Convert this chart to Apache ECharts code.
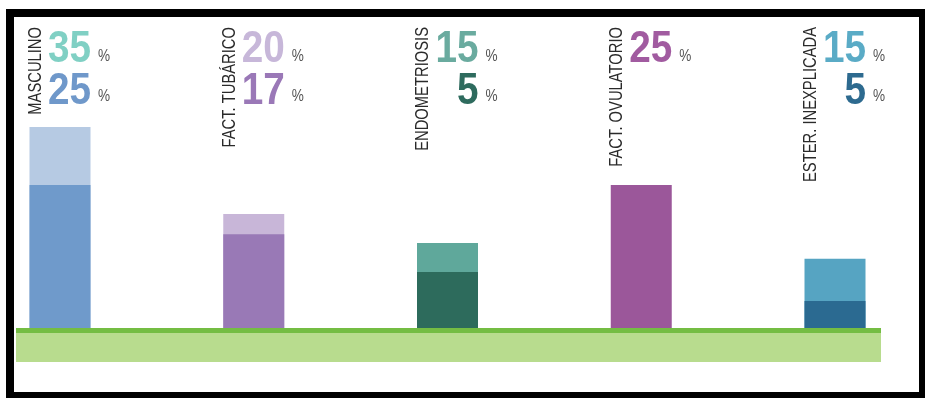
<!DOCTYPE html>
<html>
<head>
<meta charset="utf-8">
<title>Causas de esterilidad</title>
<script src="https://cdn.jsdelivr.net/npm/echarts@6/dist/echarts.min.js"></script>
<style>
  html, body { margin: 0; padding: 0; background: #fff; }
  #chart { width: 925px; height: 398px; }
</style>
</head>
<body>
<div id="chart"></div>
<script>
// data
var categories = ['MASCULINO', 'FACT. TUBÁRICO', 'ENDOMETRIOSIS', 'FACT. OVULATORIO', 'ESTER. INEXPLICADA'];
var outerValues = [35, 20, 15, 25, 12.3];   // full bar height
var innerValues = [25, 16.5, 10, '-', 5];   // darker lower part
var topLabels = ['35', '20', '15', '25', '15'];
var bottomLabels = ['25', '17', '5', '', '5'];

// colours
var outerColors = ['#b6cae3', '#c8b6d8', '#5fa89b', '#9b579a', '#56a4c2'];
var innerColors = ['#6f9acb', '#9979b6', '#2d6b5c', '#9b579a', '#2b6a91'];
var topLabelColors = ['#80d0c4', '#c7b7d9', '#6aab9f', '#a15ba0', '#5aabc6'];
var bottomLabelColors = ['#6f98ca', '#9a78b7', '#2e6b5e', '#a15ba0', '#2d6a8f'];

var sans = "'Liberation Sans', Arial, sans-serif";

var myChart = echarts.init(document.getElementById('chart'), null, { renderer: 'canvas' });

// fixed-height labels above each bar: rotated name, big numbers, small %
function renderLabels(params, api) {
    var i = params.dataIndex;
    var cx = api.coord([i, 0])[0];
    var kids = [
        {
            type: 'text',
            x: cx - 24, y: 27,
            rotation: Math.PI / 2,
            scaleX: 0.82,
            style: { text: categories[i], font: '18px ' + sans, fill: '#2a2a2a', align: 'right', verticalAlign: 'middle' }
        },
        {
            type: 'text',
            x: cx + 31, y: 27,
            scaleX: 0.86,
            style: { text: topLabels[i], font: 'bold 45px ' + sans, fill: topLabelColors[i], align: 'right', verticalAlign: 'top' }
        },
        {
            type: 'text',
            x: cx + 38, y: 48.5,
            scaleX: 0.85,
            style: { text: '%', font: '16px ' + sans, fill: '#555', align: 'left', verticalAlign: 'top' }
        }
    ];
    if (bottomLabels[i]) {
        kids.push({
            type: 'text',
            x: cx + 31, y: 69,
            scaleX: 0.86,
            style: { text: bottomLabels[i], font: 'bold 45px ' + sans, fill: bottomLabelColors[i], align: 'right', verticalAlign: 'top' }
        });
        kids.push({
            type: 'text',
            x: cx + 38, y: 88.5,
            scaleX: 0.85,
            style: { text: '%', font: '16px ' + sans, fill: '#555', align: 'left', verticalAlign: 'top' }
        });
    }
    return { type: 'group', children: kids };
}

option = {
    animation: false,
    backgroundColor: '#fff',
    grid: { left: 60, right: 90, top: 98, bottom: 68 },
    xAxis: {
        type: 'category',
        data: categories,
        boundaryGap: false,
        axisLine: { show: false },
        axisTick: { show: false },
        axisLabel: { show: false },
        splitLine: { show: false }
    },
    yAxis: {
        type: 'value',
        min: 0,
        max: 40,
        show: false,
        splitLine: { show: false }
    },
    graphic: [
        // green ground band
        { type: 'rect', z: 10, shape: { x: 16, y: 333, width: 865, height: 29 }, style: { fill: '#b8dc8e' } },
        { type: 'rect', z: 10, shape: { x: 16, y: 328, width: 865, height: 5 }, style: { fill: '#74bd43' } },
        // black frame (left/top thicker than right/bottom)
        { type: 'rect', z: 20, shape: { x: 6, y: 9, width: 8, height: 389 }, style: { fill: '#000' } },
        { type: 'rect', z: 20, shape: { x: 6, y: 9, width: 919, height: 8 }, style: { fill: '#000' } },
        { type: 'rect', z: 20, shape: { x: 919, y: 9, width: 6, height: 389 }, style: { fill: '#000' } },
        { type: 'rect', z: 20, shape: { x: 6, y: 392, width: 919, height: 6 }, style: { fill: '#000' } }
    ],
    series: [
        {
            name: 'total',
            type: 'bar',
            barWidth: 61,
            barGap: '-100%',
            clip: false,
            data: outerValues,
            itemStyle: { color: function (p) { return outerColors[p.dataIndex]; } }
        },
        {
            name: 'parcial',
            type: 'bar',
            barWidth: 61,
            barGap: '-100%',
            clip: false,
            data: innerValues,
            itemStyle: { color: function (p) { return innerColors[p.dataIndex]; } }
        },
        {
            name: 'etiquetas',
            type: 'custom',
            clip: false,
            data: outerValues,
            renderItem: renderLabels
        }
    ]
};

myChart.setOption(option, true);
</script>
</body>
</html>
